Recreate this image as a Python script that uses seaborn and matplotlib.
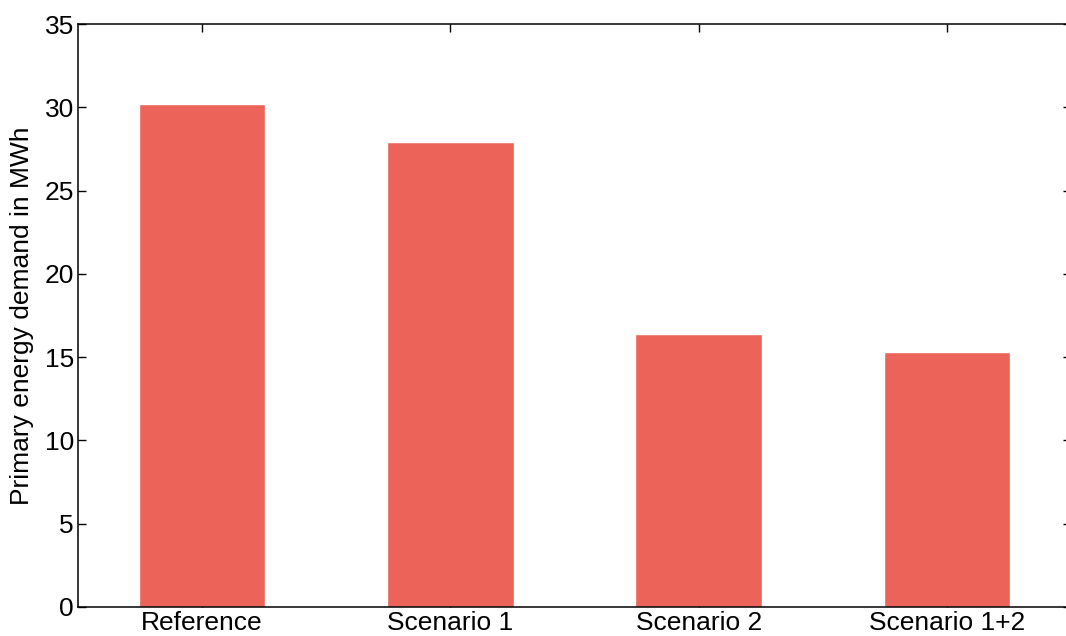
import matplotlib
matplotlib.use("Agg")
import matplotlib.pyplot as plt
import seaborn as sns
import pandas as pd

categories = ["Reference", "Scenario 1", "Scenario 2", "Scenario 1+2"]
values = [30.2, 27.9, 16.4, 15.3]
yticks = [0, 5, 10, 15, 20, 25, 30, 35]

sns.set_style("ticks")
plt.rcParams['font.family'] = ['Liberation Sans', 'DejaVu Sans']

df = pd.DataFrame({"cat": categories, "val": values})

fig = plt.figure(figsize=(10.66, 6.36), dpi=100)
ax = fig.add_axes([78/1066, 1 - 607/636, (1071-78)/1066, (607-24)/636])
sns.barplot(data=df, x="cat", y="val", color="#EC6359", saturation=1, width=0.51, ax=ax)
ax.set_xlim(-0.5, 3.5)
ax.set_ylim(0, 35)
ax.set_yticks(yticks)
ax.set_xlabel("")
ax.set_ylabel("Primary energy demand in MWh", fontsize=19, color="black")
ax.tick_params(axis="both", direction="in", length=6, width=1, labelsize=19,
               top=True, right=True, colors="black", pad=3)
for s in ax.spines.values():
    s.set_visible(True)
    s.set_linewidth(1.1)
    s.set_color("black")
ax.yaxis.set_label_coords(-0.044, 0.5)
fig.savefig("out.png", dpi=100)
